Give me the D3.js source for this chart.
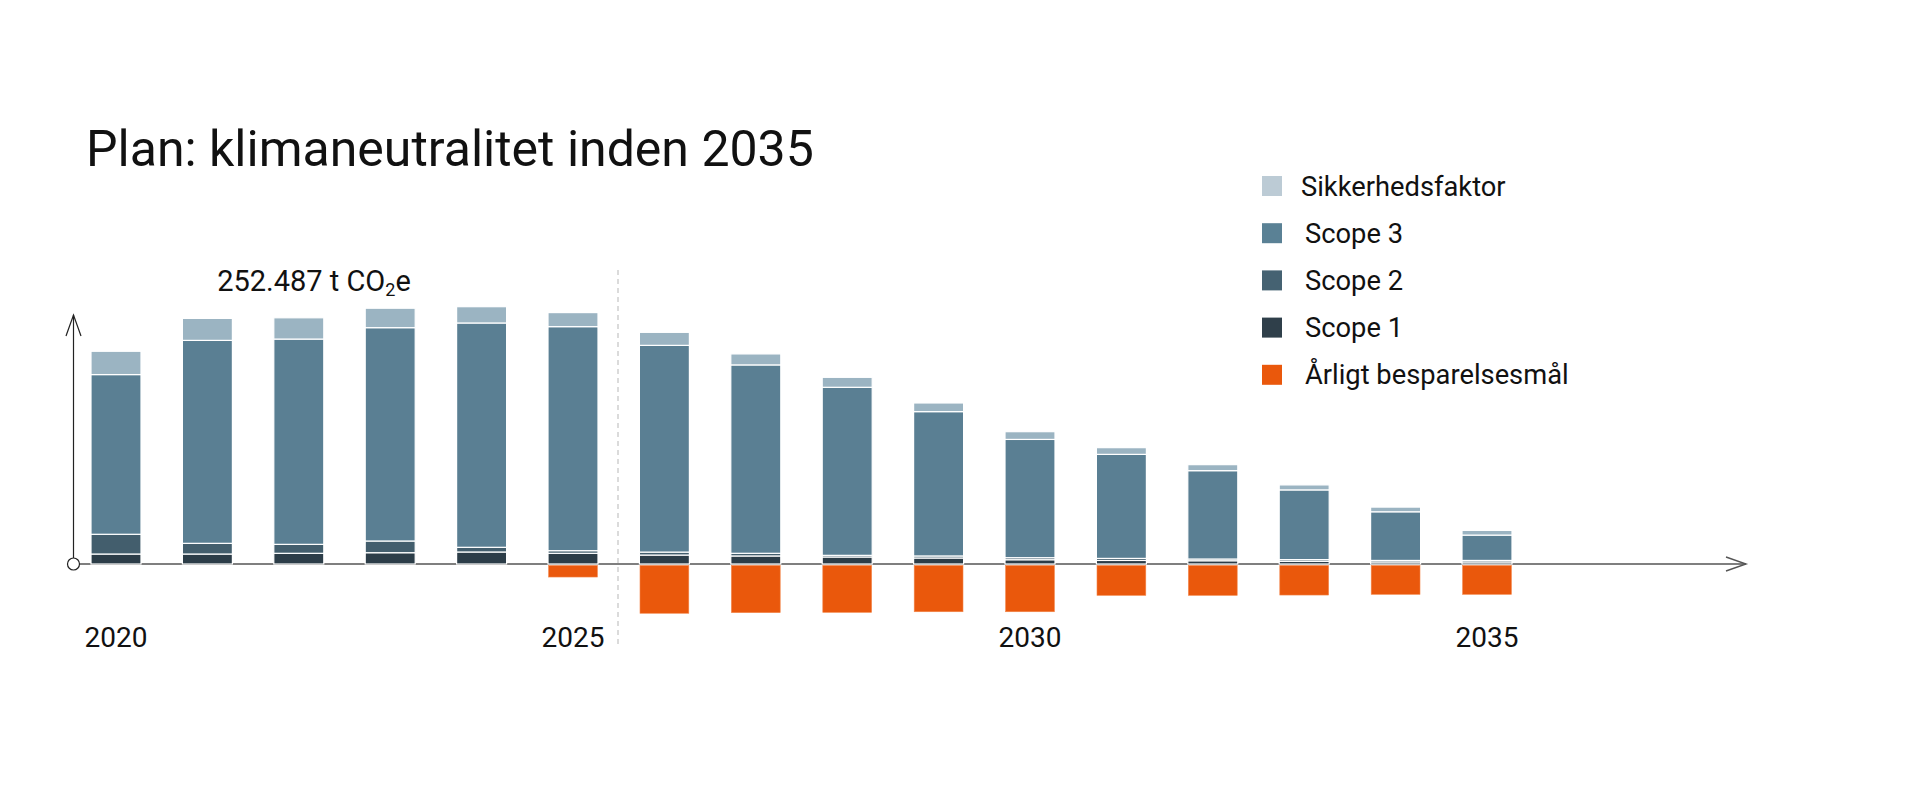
<!DOCTYPE html>
<html>
<head>
<meta charset="utf-8">
<script src="https://cdn.jsdelivr.net/npm/d3@7"></script>
<style>
  body { margin: 0; background: #fff; }
  svg { display: block; font-family: Roboto, "Noto Sans", sans-serif; }
</style>
</head>
<body>
<svg width="1920" height="800"></svg>
<script>
// values in 1000 t CO2e
const years = [2020, 2021, 2022, 2023, 2024, 2025, 2026, 2027, 2028, 2029, 2030, 2031, 2032, 2033, 2034, 2035];
const scope1 = [9.8, 9.8, 10.5, 11.1, 11.8, 10.5, 8.8, 7.9, 6.9, 5.9, 4.2, 3.5, 3.2, 2.6, 2.0, 2.0];
const scope2 = [19.4, 10.5, 8.8, 11.5, 4.6, 2.6, 2.9, 2.6, 1.6, 2.0, 2.0, 2.0, 1.7, 1.7, 1.5, 1.5];
const scope3 = [156.9, 199.4, 201.7, 209.6, 220.4, 220.1, 203.1, 185.1, 165.1, 141.8, 116.2, 102.2, 86.8, 68.5, 47.8, 24.9];
const sikkerhed = [22.9, 21.6, 20.9, 19.1, 16.0, 13.8, 12.8, 10.8, 9.8, 8.5, 7.6, 6.6, 5.9, 4.9, 4.6, 4.6];
const besparelse = [0, 0, 0, 0, 0, 12.8, 48.4, 47.8, 47.5, 46.9, 46.9, 30.8, 30.8, 30.5, 29.8, 29.8];
const yearLabels = [2020, 2025, 2030, 2035];
const legendNames = ["Sikkerhedsfaktor", "Scope 3", "Scope 2", "Scope 1", "Årligt besparelsesmål"];

const colors = {
  scope1: "#2c3d48",
  scope2: "#435e6d",
  scope3: "#5a7f93",
  sikkerhed: "#9bb4c2",
  besparelse: "#ea580c"
};
const legendColors = ["#bccbd5", "#5a8195", "#456272", "#2f3f4a", "#ea580c"];

const svg = d3.select("svg");

const x = d3.scaleBand()
  .domain(years)
  .range([70.3, 1532.7])
  .paddingInner(0.453)
  .paddingOuter(0.2265);

const y = d3.scaleLinear()
  .domain([0, 252.5])
  .range([564, 307]);

// title
svg.append("text")
  .attr("x", 86)
  .attr("y", 165.5)
  .attr("font-size", 50)
  .attr("fill", "#111")
  .text("Plan: klimaneutralitet inden 2035");

// divider between history and plan
svg.append("line")
  .attr("x1", 618).attr("x2", 618)
  .attr("y1", 270).attr("y2", 648)
  .attr("stroke", "#c8c8c8")
  .attr("stroke-width", 1.3)
  .attr("stroke-dasharray", "5,4");

// x axis with arrow
const axisColor = "#555";
svg.append("line")
  .attr("x1", 79).attr("x2", 1746)
  .attr("y1", 564).attr("y2", 564)
  .attr("stroke", axisColor).attr("stroke-width", 1.4);
svg.append("path")
  .attr("d", "M1726,557 L1746,564 L1726,571")
  .attr("fill", "none").attr("stroke", axisColor).attr("stroke-width", 1.4);

// y axis with arrow
svg.append("line")
  .attr("x1", 73.5).attr("x2", 73.5)
  .attr("y1", 558).attr("y2", 315)
  .attr("stroke", "#222").attr("stroke-width", 1.2);
svg.append("path")
  .attr("d", "M66,336 L73.5,315 L81,336")
  .attr("fill", "none").attr("stroke", "#222").attr("stroke-width", 1.2);
svg.append("circle")
  .attr("cx", 73.5).attr("cy", 564).attr("r", 6)
  .attr("fill", "#fff").attr("stroke", "#222").attr("stroke-width", 1.2);

// stacked bars
const rows = years.map((yr, i) => ({
  year: yr,
  scope1: scope1[i],
  scope2: scope2[i],
  scope3: scope3[i],
  sikkerhed: sikkerhed[i]
}));
const keys = ["scope1", "scope2", "scope3", "sikkerhed"];
const stack = d3.stack().keys(keys)(rows);

svg.append("g")
  .selectAll("g")
  .data(stack)
  .join("g")
  .attr("fill", d => colors[d.key])
  .selectAll("rect")
  .data(d => d)
  .join("rect")
  .attr("x", d => x(d.data.year))
  .attr("width", x.bandwidth())
  .attr("y", d => y(d[1]))
  .attr("height", d => Math.max(0, y(d[0]) - y(d[1])))
  .attr("stroke", "#fff")
  .attr("stroke-width", 1.2);

// annual savings below the axis
svg.append("g")
  .selectAll("rect")
  .data(years.filter((yr, i) => besparelse[i] > 0))
  .join("rect")
  .attr("x", d => x(d) + 0.6)
  .attr("width", x.bandwidth() - 1.2)
  .attr("y", y(0) + 1.5)
  .attr("height", d => y(-besparelse[years.indexOf(d)]) - y(0) - 1.5)
  .attr("fill", colors.besparelse)
  .attr("stroke", "#f3864a")
  .attr("stroke-width", 0.6);

// year labels
const xAxis = svg.append("g")
  .attr("transform", "translate(0, 627)")
  .call(d3.axisBottom(x).tickValues(yearLabels).tickSize(0).tickPadding(0));
xAxis.select(".domain").remove();
xAxis.selectAll("text")
  .attr("font-family", "Roboto, sans-serif")
  .attr("font-size", 28)
  .attr("fill", "#111");

// total label
const total = svg.append("text")
  .attr("x", 314)
  .attr("y", 291)
  .attr("text-anchor", "middle")
  .attr("font-size", 29)
  .attr("fill", "#111");
total.append("tspan").text("252.487 t CO");
total.append("tspan").attr("font-size", 18).attr("dy", 5).text("2");
total.append("tspan").attr("dy", -5).text("e");

// legend
const legend = svg.append("g")
  .selectAll("g")
  .data(legendNames)
  .join("g")
  .attr("transform", (d, i) => `translate(1262, ${176 + i * 47.2})`);
legend.append("rect")
  .attr("width", 20).attr("height", 20)
  .attr("fill", (d, i) => legendColors[i]);
legend.append("text")
  .attr("x", (d, i) => i === 0 ? 39 : 43)
  .attr("y", 19.5)
  .attr("font-size", 27.3)
  .attr("fill", "#111")
  .text(d => d);
</script>
</body>
</html>
